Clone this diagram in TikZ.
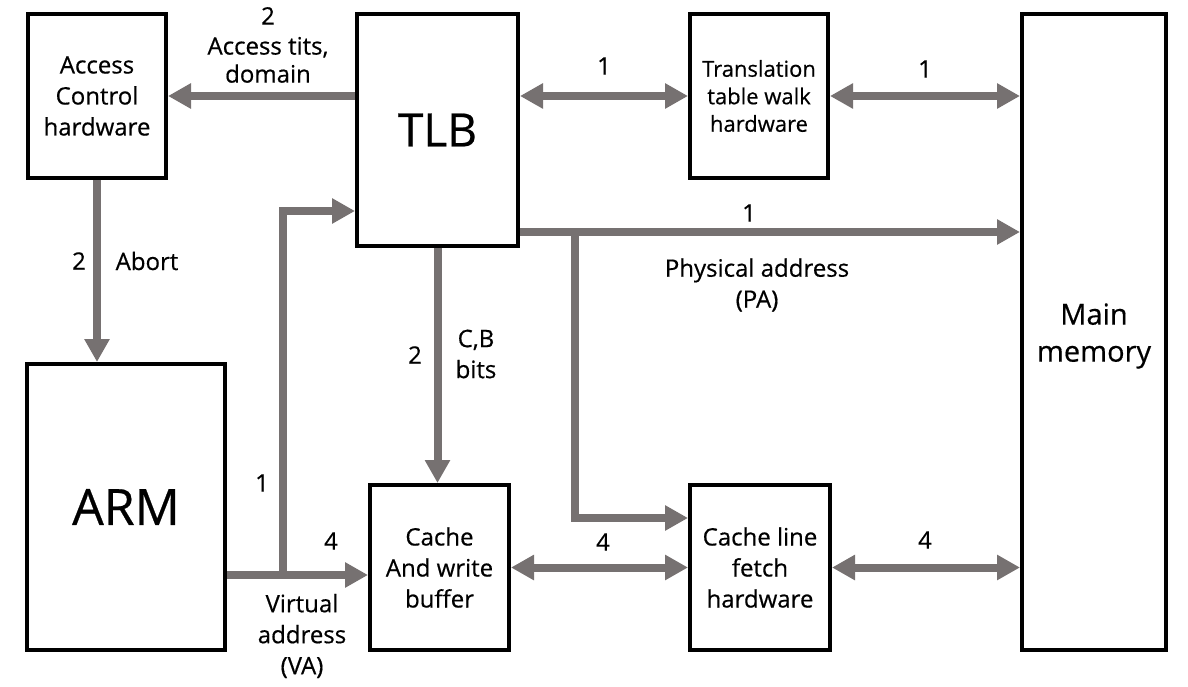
\documentclass[tikz,border=0pt]{standalone}
\usepackage{fontspec}
\setmainfont{Open Sans}[FakeBold=0.5]
\usetikzlibrary{arrows.meta}
\definecolor{agray}{RGB}{118,113,113}
\begin{document}
\begin{tikzpicture}[x=1pt,y=-1pt,
  box/.style={draw=black, line width=4pt, inner sep=0pt, align=center, font=\fontsize{24}{31}\selectfont},
  arr/.style={draw=agray, line width=8pt, line join=miter, -{Triangle[length=23pt,width=24pt]}},
  darr/.style={draw=agray, line width=8pt, {Triangle[length=23pt,width=24pt]}-{Triangle[length=23pt,width=24pt]}},
  lbl/.style={font=\fontsize{24}{31}\selectfont, align=center, inner sep=0pt},
]
\useasboundingbox (0,0) rectangle (1188,687);
% boxes
\node[box, minimum width=138pt, minimum height=164pt] (acc) at (97,96) {Access\\Control\\hardware};
\node[box, minimum width=161pt, minimum height=232pt, font=\fontsize{46}{50}\selectfont] (tlb) at (437.5,130) {TLB};
\node[box, minimum width=138pt, minimum height=164pt, font=\fontsize{22}{27.5}\selectfont] (ttw) at (759,96) {Translation\\table walk\\hardware};
\node[box, minimum width=144pt, minimum height=636pt] (mem) at (1094,332) {};
\node[lbl, font=\fontsize{29}{37}\selectfont] (memtxt) at (1094,336) {Main\\memory};
\node[box, minimum width=198pt, minimum height=286pt, font=\fontsize{50}{55}\selectfont] (arm) at (126,507) {ARM};
\node[box, minimum width=139pt, minimum height=165pt] (cwb) at (439.5,567.5) {Cache\\And write\\buffer};
\node[box, minimum width=140pt, minimum height=165pt] (clf) at (760,567.5) {Cache line\\fetch\\hardware};
% junction coordinates
\coordinate (va) at (283,575);
\coordinate (vaup) at (283,211);
\coordinate (pa) at (575,232);
\coordinate (pafetch) at (575,518);
% connectors
\draw[arr] (tlb.west |- acc.east) -- (acc.east);
\draw[darr] (tlb.east |- ttw.west) -- (ttw.west);
\draw[darr] (ttw.east) -- (mem.west |- ttw.east);
\draw[arr] (acc.south) -- (acc.south |- arm.north);
\draw[arr] (arm.east |- va) -- (cwb.west |- va);
\draw[arr] (va) -- (vaup) -- (tlb.west |- vaup);
\draw[arr] (tlb.south) -- (tlb.south |- cwb.north);
\draw[arr] (tlb.east |- pa) -- (mem.west |- pa);
\draw[arr] (pa) -- (pafetch) -- (clf.west |- pafetch);
\draw[darr] (cwb.east) -- (clf.west |- cwb.east);
\draw[darr] (clf.east) -- (mem.west |- clf.east);
% labels
\node[lbl] (lacc) at (268,45) {2\\[-1pt]Access tits,\\[-3pt]domain};
\node[lbl] (l1a) at (604,66) {1};
\node[lbl] (l1b) at (925,69) {1};
\node[lbl] (l1c) at (749,213) {1};
\node[lbl] (lpa) at (757,285) {Physical address\\(PA)};
\node[lbl] (l2a) at (79,261) {2};
\node[lbl] (labort) at (147,261) {Abort};
\node[lbl] (l2b) at (415,355) {2};
\node[lbl] (lcb) at (476,354) {C,B\\bits};
\node[lbl] (l1d) at (262,483) {1};
\node[lbl] (l4a) at (331,541) {4};
\node[lbl] (lva) at (302,636) {Virtual\\address\\(VA)};
\node[lbl] (l4b) at (603,542) {4};
\node[lbl] (l4c) at (925,540) {4};
\end{tikzpicture}
\end{document}
